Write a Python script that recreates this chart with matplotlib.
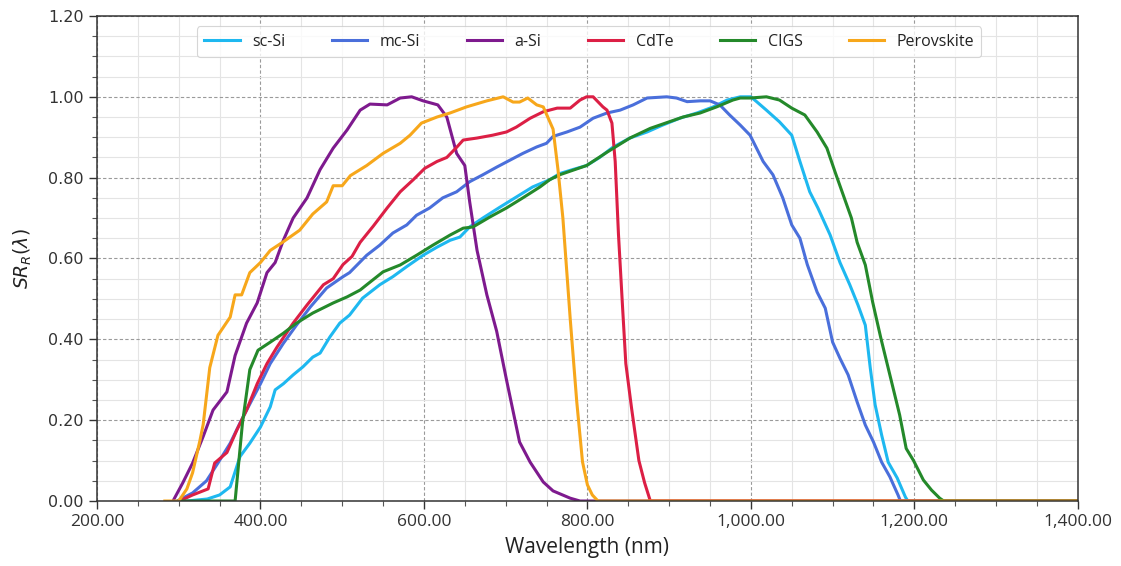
import matplotlib
matplotlib.use("Agg")
import matplotlib.pyplot as plt
from matplotlib.ticker import MultipleLocator, FuncFormatter

# Spectral response curves (wavelength in nm, relative response)
sc_si_wl = [310, 335, 350, 363, 375, 387, 400, 412, 418, 428, 440, 452, 464, 473, 485, 497, 509,
            525, 546, 562, 579, 599, 616, 632, 644, 656, 672, 693, 713, 733, 754, 766, 782, 799,
            815, 831, 852, 873, 892, 913, 934, 954, 971, 987, 1000, 1007, 1019, 1035, 1050, 1060,
            1072, 1082, 1097, 1109, 1121, 1131, 1140, 1146, 1152, 1160, 1168, 1179, 1189, 1192, 1400]
sc_si_sr = [0, 0.005, 0.015, 0.035, 0.11, 0.143, 0.183, 0.233, 0.275, 0.29, 0.312, 0.332, 0.356,
            0.366, 0.406, 0.44, 0.46, 0.502, 0.535, 0.555, 0.58, 0.608, 0.628, 0.645, 0.653, 0.678,
            0.70, 0.727, 0.752, 0.777, 0.795, 0.81, 0.82, 0.83, 0.85, 0.875, 0.898, 0.913, 0.93,
            0.947, 0.96, 0.975, 0.992, 1.0, 1.0, 0.988, 0.967, 0.938, 0.905, 0.84, 0.765, 0.725,
            0.658, 0.59, 0.535, 0.485, 0.435, 0.33, 0.238, 0.163, 0.096, 0.057, 0.01, 0, 0]

mc_si_wl = [298, 317, 334, 348, 363, 375, 387, 400, 412, 428, 444, 461, 481, 501, 509, 530, 546,
            562, 579, 591, 607, 623, 640, 656, 672, 689, 705, 721, 738, 750, 758, 775, 791, 807,
            824, 840, 856, 873, 897, 909, 922, 938, 950, 962, 974, 987, 999, 1015, 1027, 1039,
            1050, 1060, 1069, 1081, 1091, 1100, 1109, 1119, 1130, 1140, 1150, 1160, 1170, 1180,
            1183, 1400]
mc_si_sr = [0, 0.02, 0.05, 0.094, 0.143, 0.193, 0.24, 0.29, 0.34, 0.39, 0.435, 0.48, 0.527, 0.555,
            0.565, 0.608, 0.633, 0.663, 0.683, 0.707, 0.725, 0.75, 0.765, 0.79, 0.807, 0.826,
            0.843, 0.86, 0.876, 0.885, 0.902, 0.913, 0.925, 0.947, 0.96, 0.967, 0.98, 0.997, 1.0,
            0.997, 0.988, 0.99, 0.99, 0.98, 0.955, 0.93, 0.905, 0.84, 0.807, 0.75, 0.683, 0.65,
            0.585, 0.517, 0.477, 0.393, 0.353, 0.312, 0.245, 0.188, 0.146, 0.096, 0.06, 0.015,
            0, 0]

a_si_wl = [293, 305, 317, 330, 342, 359, 369, 383, 396, 408, 418, 428, 440, 457, 473, 489, 506,
           522, 534, 555, 571, 585, 599, 617, 628, 640, 650, 656, 665, 677, 689, 701, 717, 730,
           746, 758, 779, 791, 1400]
a_si_sr = [0, 0.045, 0.094, 0.16, 0.225, 0.27, 0.36, 0.44, 0.49, 0.565, 0.59, 0.645, 0.70, 0.75,
           0.82, 0.873, 0.918, 0.967, 0.982, 0.98, 0.997, 1.0, 0.99, 0.98, 0.95, 0.86, 0.83,
           0.74, 0.62, 0.51, 0.42, 0.30, 0.146, 0.096, 0.047, 0.025, 0.007, 0, 0]

cdte_wl = [301, 317, 336, 344, 359, 371, 383, 396, 408, 420, 440, 457, 477, 489, 501, 512, 522,
           538, 555, 571, 587, 601, 616, 628, 640, 648, 665, 684, 701, 713, 730, 746, 763, 779,
           791, 799, 807, 819, 824, 830, 834, 838, 843, 847, 854, 863, 870, 877, 1400]
cdte_sr = [0, 0.015, 0.03, 0.094, 0.12, 0.175, 0.225, 0.29, 0.34, 0.38, 0.44, 0.485, 0.535, 0.55,
           0.585, 0.605, 0.64, 0.68, 0.725, 0.765, 0.795, 0.823, 0.84, 0.85, 0.875, 0.893, 0.898,
           0.905, 0.913, 0.925, 0.947, 0.963, 0.972, 0.972, 0.992, 1.0, 1.0, 0.975, 0.967, 0.935,
           0.84, 0.66, 0.48, 0.34, 0.23, 0.10, 0.045, 0, 0]

cigs_wl = [300, 369, 378, 387, 397, 412, 428, 444, 464, 489, 506, 522, 530, 550, 571, 591, 611,
           632, 648, 660, 681, 701, 721, 742, 754, 766, 799, 824, 852, 877, 917, 938, 958, 978,
           987, 999, 1019, 1035, 1050, 1066, 1081, 1093, 1103, 1113, 1123, 1130, 1140, 1149, 1159,
           1171, 1182, 1190, 1199, 1211, 1221, 1231, 1236, 1400]
cigs_sr = [0, 0, 0.193, 0.325, 0.373, 0.393, 0.415, 0.44, 0.465, 0.49, 0.505, 0.522, 0.535, 0.567,
           0.584, 0.608, 0.633, 0.658, 0.675, 0.678, 0.703, 0.725, 0.75, 0.777, 0.795, 0.807,
           0.83, 0.863, 0.898, 0.922, 0.95, 0.96, 0.975, 0.992, 0.997, 0.997, 1.0, 0.992, 0.972,
           0.955, 0.913, 0.873, 0.814, 0.757, 0.70, 0.64, 0.584, 0.492, 0.403, 0.304, 0.213,
           0.13, 0.10, 0.052, 0.027, 0.007, 0, 0]

perovskite_wl = [283, 300, 310, 317, 326, 330, 338, 348, 363, 369, 377, 387, 400, 412, 427, 448,
                 464, 481, 489, 500, 510, 522, 530, 550, 571, 583, 597, 616, 632, 652, 677, 697,
                 709, 717, 727, 738, 746, 758, 764, 770, 779, 787, 794, 800, 806, 813, 1400]
perovskite_sr = [0, 0, 0.03, 0.07, 0.15, 0.19, 0.33, 0.41, 0.455, 0.51, 0.51, 0.565, 0.59, 0.62,
                 0.64, 0.67, 0.71, 0.74, 0.78, 0.78, 0.805, 0.82, 0.83, 0.86, 0.885, 0.905, 0.935,
                 0.95, 0.96, 0.975, 0.99, 1.0, 0.987, 0.987, 0.997, 0.98, 0.975, 0.92, 0.82, 0.70,
                 0.45, 0.245, 0.097, 0.04, 0.015, 0, 0]

series = [
    ("sc-Si", sc_si_wl, sc_si_sr, "#1EB8F0"),
    ("mc-Si", mc_si_wl, mc_si_sr, "#4A6FDB"),
    ("a-Si", a_si_wl, a_si_sr, "#7E1A8E"),
    ("CdTe", cdte_wl, cdte_sr, "#DC1F45"),
    ("CIGS", cigs_wl, cigs_sr, "#24892A"),
    ("Perovskite", perovskite_wl, perovskite_sr, "#F7A71B"),
]

fig = plt.figure(figsize=(11.21, 5.66), dpi=100)
ax = fig.add_axes([0.0865, 0.1148, 0.875, 0.857])

for name, wl, sr, col in series:
    ax.plot(wl, sr, color=col, lw=2.2, label=name)

ax.set_xlim(200, 1400)
ax.set_ylim(0, 1.2)
ax.xaxis.set_major_locator(MultipleLocator(200))
ax.xaxis.set_minor_locator(MultipleLocator(50))
ax.yaxis.set_major_locator(MultipleLocator(0.2))
ax.yaxis.set_minor_locator(MultipleLocator(0.05))
ax.xaxis.set_major_formatter(FuncFormatter(lambda v, p: f"{v:,.2f}"))
ax.yaxis.set_major_formatter(FuncFormatter(lambda v, p: f"{v:.2f}"))

ax.grid(which="major", linestyle=(0, (3, 2)), color="#9a9a9a", lw=0.8)
ax.grid(which="minor", linestyle="-", color="#e4e4e4", lw=0.8)
ax.set_axisbelow(True)

ax.tick_params(which="major", length=6, width=1, color="#333333")
ax.tick_params(which="minor", length=3.5, width=0.8, color="#555555")
for lab in ax.get_xticklabels():
    lab.set_fontfamily("Open Sans")
    lab.set_fontsize(12.5)
    lab.set_color("#333333")
for lab in ax.get_yticklabels():
    lab.set_fontfamily("DejaVu Sans")
    lab.set_fontsize(11.5)
    lab.set_color("#333333")
for sp in ax.spines.values():
    sp.set_color("#333333")
    sp.set_linewidth(1.1)

ax.set_xlabel("Wavelength (nm)", fontfamily="Open Sans", fontsize=15, color="#222222", labelpad=5)
ax.set_ylabel(r"$SR_R(\lambda)$", fontsize=13.5, color="#222222", labelpad=10)

leg = ax.legend(loc="upper center", bbox_to_anchor=(0.502, 0.995), ncol=6,
                prop={"family": "Open Sans", "size": 11.5}, handlelength=2.2,
                columnspacing=2.9, handletextpad=0.8, frameon=True, fancybox=True,
                borderpad=0.45, edgecolor="#cccccc")
leg.get_frame().set_linewidth(0.8)
for t in leg.get_texts():
    t.set_color("#222222")

fig.savefig("out.png", dpi=100)
